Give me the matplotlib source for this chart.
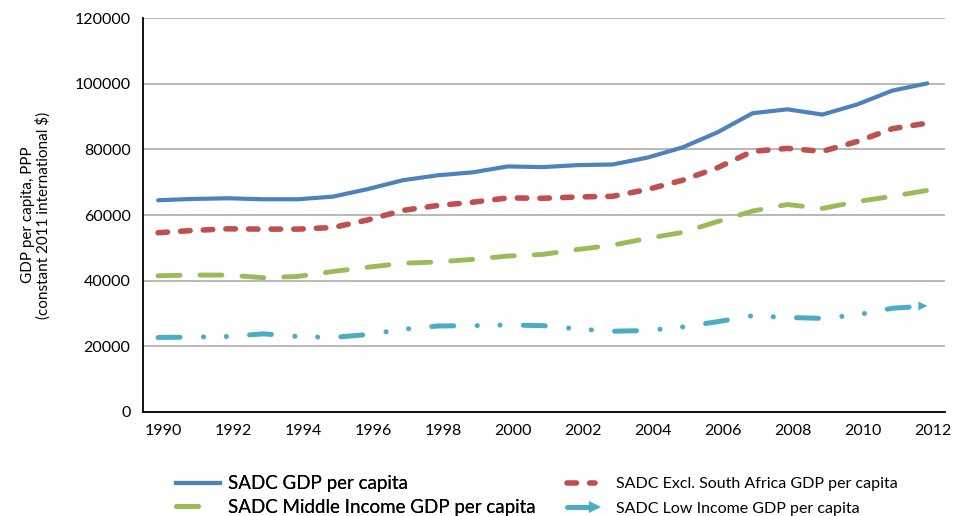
import matplotlib
matplotlib.use("Agg")
import matplotlib.pyplot as plt
from matplotlib.lines import Line2D
from matplotlib.legend_handler import HandlerLine2D
from matplotlib.transforms import ScaledTranslation

plt.rcParams["font.family"] = ["Lato", "DejaVu Sans"]
plt.rcParams["lines.scale_dashes"] = False

# GDP per capita, PPP (constant 2011 international $)
years = list(range(1990, 2013))
sadc_total = [64500, 64900, 65100, 64800, 64800, 65600, 67900, 70600, 72100, 73000,
              74800, 74600, 75200, 75400, 77500, 80600, 85200, 91000, 92200, 90600,
              93700, 97900, 100100]
sadc_excl_sa = [54600, 55300, 55800, 55700, 55700, 56200, 58500, 61400, 62900, 63900,
                65200, 65100, 65500, 65700, 67800, 70600, 74400, 79400, 80300, 79400,
                82400, 86300, 88000]
sadc_middle = [41500, 41700, 41700, 40900, 41300, 42800, 44100, 45300, 45700, 46500,
               47500, 48000, 49500, 50800, 52900, 54700, 58000, 61200, 63200, 62000,
               64100, 65700, 67500]
sadc_low = [22700, 22800, 23000, 23800, 23000, 22700, 23600, 25200, 26200, 26300,
            26500, 26300, 25300, 24600, 24800, 25900, 27500, 29300, 28800, 28500,
            29600, 31600, 32300]

y_ticks = [0, 20000, 40000, 60000, 80000, 100000, 120000]
x_ticks = list(range(1990, 2013, 2))

labels = ["SADC GDP per capita",
          "SADC Excl. South Africa GDP per capita",
          "SADC Middle Income GDP per capita",
          "SADC Low Income GDP per capita"]
colors = ["#4F81BD", "#C0504D", "#9BBB59", "#4BACC6"]

fig = plt.figure(figsize=(9.73, 5.16), dpi=100)
ax = fig.add_axes([0.147, 0.2016, 0.824, 0.7634])

ax.plot(years, sadc_total, color=colors[0], lw=3.0, solid_capstyle="round",
        solid_joinstyle="round", zorder=4)
ax.plot(years, sadc_excl_sa, color=colors[1], lw=4.0,
        dashes=(6.8, 9.5), dash_capstyle="round", zorder=3)
ax.plot(years, sadc_middle, color=colors[2], lw=3.5,
        dashes=(15.8, 14.4), dash_capstyle="round", zorder=3)
ax.plot(years, sadc_low, color=colors[3], lw=3.6,
        dashes=(15.8, 16.9, 0.1, 16.3, 0.1, 16.7), dash_capstyle="round", zorder=3)
ax.annotate("", xy=(years[-1], sadc_low[-1]), xytext=(years[-1] - 0.35, sadc_low[-1]),
            arrowprops=dict(arrowstyle="-|>", color=colors[3], lw=0,
                            mutation_scale=16, shrinkA=0, shrinkB=0), zorder=3)

ax.set_xlim(1989.57, 2012.5)
ax.set_ylim(0, 120000)
ax.set_yticks(y_ticks)
ax.set_xticks(x_ticks)
ax.tick_params(axis="both", length=0, labelsize=11.5, colors="black")
ax.tick_params(axis="x", pad=9)
ax.tick_params(axis="y", pad=9)
shift = ScaledTranslation(4 / 72, 0, fig.dpi_scale_trans)
for lbl in ax.get_xticklabels():
    lbl.set_transform(lbl.get_transform() + shift)
ax.yaxis.grid(True, color="#a6a6a6", lw=1.1)
ax.set_axisbelow(True)
for side in ("top", "right"):
    ax.spines[side].set_visible(False)
for side in ("left", "bottom"):
    ax.spines[side].set_color("black")
    ax.spines[side].set_linewidth(1.3)

ax.set_ylabel("GDP per capita, PPP\n(constant 2011 international $)", fontsize=11,
              linespacing=1.05, labelpad=17)


class ArrowTipHandler(HandlerLine2D):
    """Legend line with the marker only at its right end."""
    def create_artists(self, legend, orig_handle, xdescent, ydescent, width,
                       height, fontsize, trans):
        artists = super().create_artists(legend, orig_handle, xdescent, ydescent,
                                          width, height, fontsize, trans)
        line = artists[0]
        n = len(line.get_xdata())
        line.set_markevery([n - 1])
        return artists


h_total = Line2D([], [], color=colors[0], lw=3.0)
h_excl = Line2D([], [], color=colors[1], lw=4.0, dashes=(6.8, 9.5),
                dash_capstyle="round")
h_mid = Line2D([], [], color=colors[2], lw=3.5, dashes=(15.8, 30),
               dash_capstyle="round")
h_low = Line2D([], [], color=colors[3], lw=3.6, dashes=(15.8, 6),
               dash_capstyle="round", marker=">", markersize=8,
               markeredgewidth=0)

leg1 = fig.legend([h_total, h_mid], [labels[0], labels[2]],
                  loc="upper left", bbox_to_anchor=(0.181, 0.079),
                  frameon=False, fontsize=13.5, handlelength=2.35,
                  handletextpad=0.43, labelspacing=0.35, borderpad=0,
                  borderaxespad=0)
leg2 = fig.legend([h_excl, h_low], [labels[1], labels[3]],
                  loc="upper left", bbox_to_anchor=(0.5776, 0.075),
                  frameon=False, fontsize=11.5, handlelength=2.38,
                  handletextpad=1.0, labelspacing=0.62, borderpad=0,
                  borderaxespad=0, numpoints=2,
                  handler_map={h_low: ArrowTipHandler(numpoints=2)})
fig.add_artist(leg1)

fig.savefig("out.png", dpi=100)
